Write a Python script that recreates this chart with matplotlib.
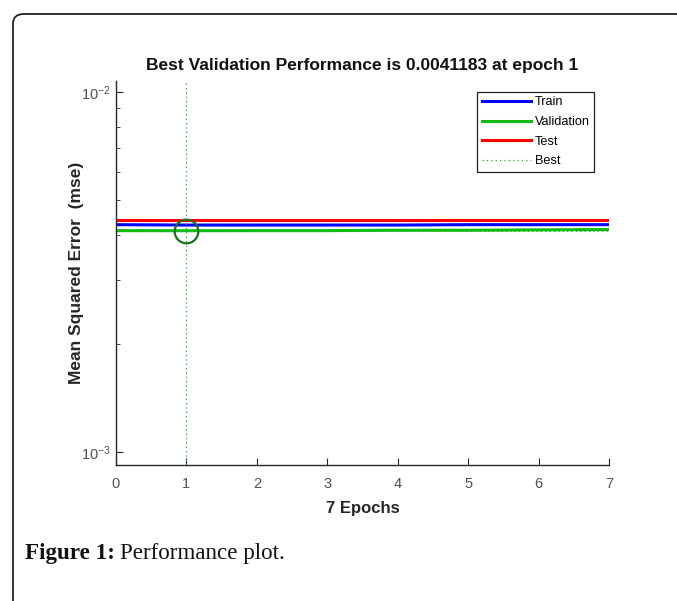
import matplotlib
matplotlib.use('Agg')
import matplotlib.pyplot as plt
from matplotlib.patches import FancyBboxPatch
from matplotlib.ticker import LogLocator, NullFormatter

plt.rcParams['font.family'] = ['Liberation Sans', 'DejaVu Sans']

# performance values
epochs = [0, 1, 2, 3, 4, 5, 6, 7]
train_mse = [0.00428, 0.00427, 0.00427, 0.00427, 0.00427, 0.00428, 0.00428, 0.00428]
val_mse = [0.00412, 0.0041183, 0.00412, 0.00412, 0.00413, 0.00413, 0.00414, 0.00415]
test_mse = [0.00442, 0.00442, 0.00442, 0.00442, 0.00442, 0.00442, 0.00442, 0.00442]
best_epoch = 1
best_val = 0.0041183

fig = plt.figure(figsize=(6.77, 6.01), dpi=100)
fig.patch.set_facecolor('white')

# rounded frame around the figure (runs off the right and bottom edges)
frame = FancyBboxPatch((13 / 677, -0.2), 1.3, 1 - 14 / 601 + 0.2,
                       boxstyle='round,pad=0,rounding_size=0.016',
                       transform=fig.transFigure, fill=False,
                       edgecolor='#222222', linewidth=1.3, clip_on=False)
fig.patches.append(frame)

ax = fig.add_axes([116 / 677, 1 - 465 / 601, 493 / 677, 384 / 601])

ax.plot(epochs, train_mse, color='#0000ff', lw=2.2, label='Train')
ax.plot(epochs, val_mse, color='#11bb11', lw=2.2, label='Validation')
ax.plot(epochs, test_mse, color='#ff0000', lw=2.2, label='Test')
ax.axvline(best_epoch, color='#11bb11', lw=0.9, ls=(0, (1, 2.5)), label='Best')
ax.axhline(best_val, color='#11bb11', lw=0.9, ls=(0, (1, 2.5)))
ax.plot([best_epoch], [best_val], 'o', ms=17, mfc='none', mec='#1d6e1d', mew=1.6)

ax.set_yscale('log')
ax.set_xlim(0, 7)
ax.set_ylim(0.000920, 0.01073)
ax.set_xticks(range(0, 8))
ax.yaxis.set_major_locator(LogLocator(base=10, numticks=10))
ax.yaxis.set_minor_locator(LogLocator(base=10, subs=range(2, 10), numticks=20))
ax.yaxis.set_minor_formatter(NullFormatter())

for s in ['top', 'right']:
    ax.spines[s].set_visible(False)
for s in ['left', 'bottom']:
    ax.spines[s].set_color('#262626')
    ax.spines[s].set_linewidth(1.0)

ax.tick_params(which='both', direction='in', colors='#262626', labelcolor='#505050')
ax.tick_params(axis='x', which='major', length=5, labelsize=10.5, pad=9)
ax.tick_params(axis='y', which='major', length=5, labelsize=10.5, pad=4)
ax.tick_params(axis='y', which='minor', length=3)

ax.set_title('Best Validation Performance is 0.0041183 at epoch 1',
             fontsize=12.5, fontweight='bold', color='#111111', pad=8)
ax.set_xlabel('7 Epochs', fontsize=12, fontweight='bold', color='#262626', labelpad=7)
ax.set_ylabel('Mean Squared Error  (mse)', fontsize=12.5, fontweight='bold',
              color='#262626', labelpad=-2)

leg = ax.legend(loc='upper right', bbox_to_anchor=(0.9696, 0.9714), borderaxespad=0,
                fontsize=9.2, frameon=True, fancybox=False, framealpha=1,
                handlelength=3.9, handletextpad=0.25, labelspacing=0.6,
                borderpad=0.35)
leg.get_frame().set_edgecolor('#222222')
leg.get_frame().set_linewidth(0.9)

# caption: bold label followed by regular text
cap1 = fig.text(25 / 677, 1 - 553 / 601, 'Figure 1:', fontsize=16.6, fontweight='bold',
                family=['Liberation Serif', 'DejaVu Serif'], va='center', color='#111111')
fig.canvas.draw()
bb = cap1.get_window_extent()
x2 = (bb.x1 + 5) / fig.bbox.width
fig.text(x2, 1 - 553 / 601, 'Performance plot.', fontsize=16.6,
         family=['Liberation Serif', 'DejaVu Serif'], va='center', color='#111111')

fig.savefig('out.png', dpi=100)
